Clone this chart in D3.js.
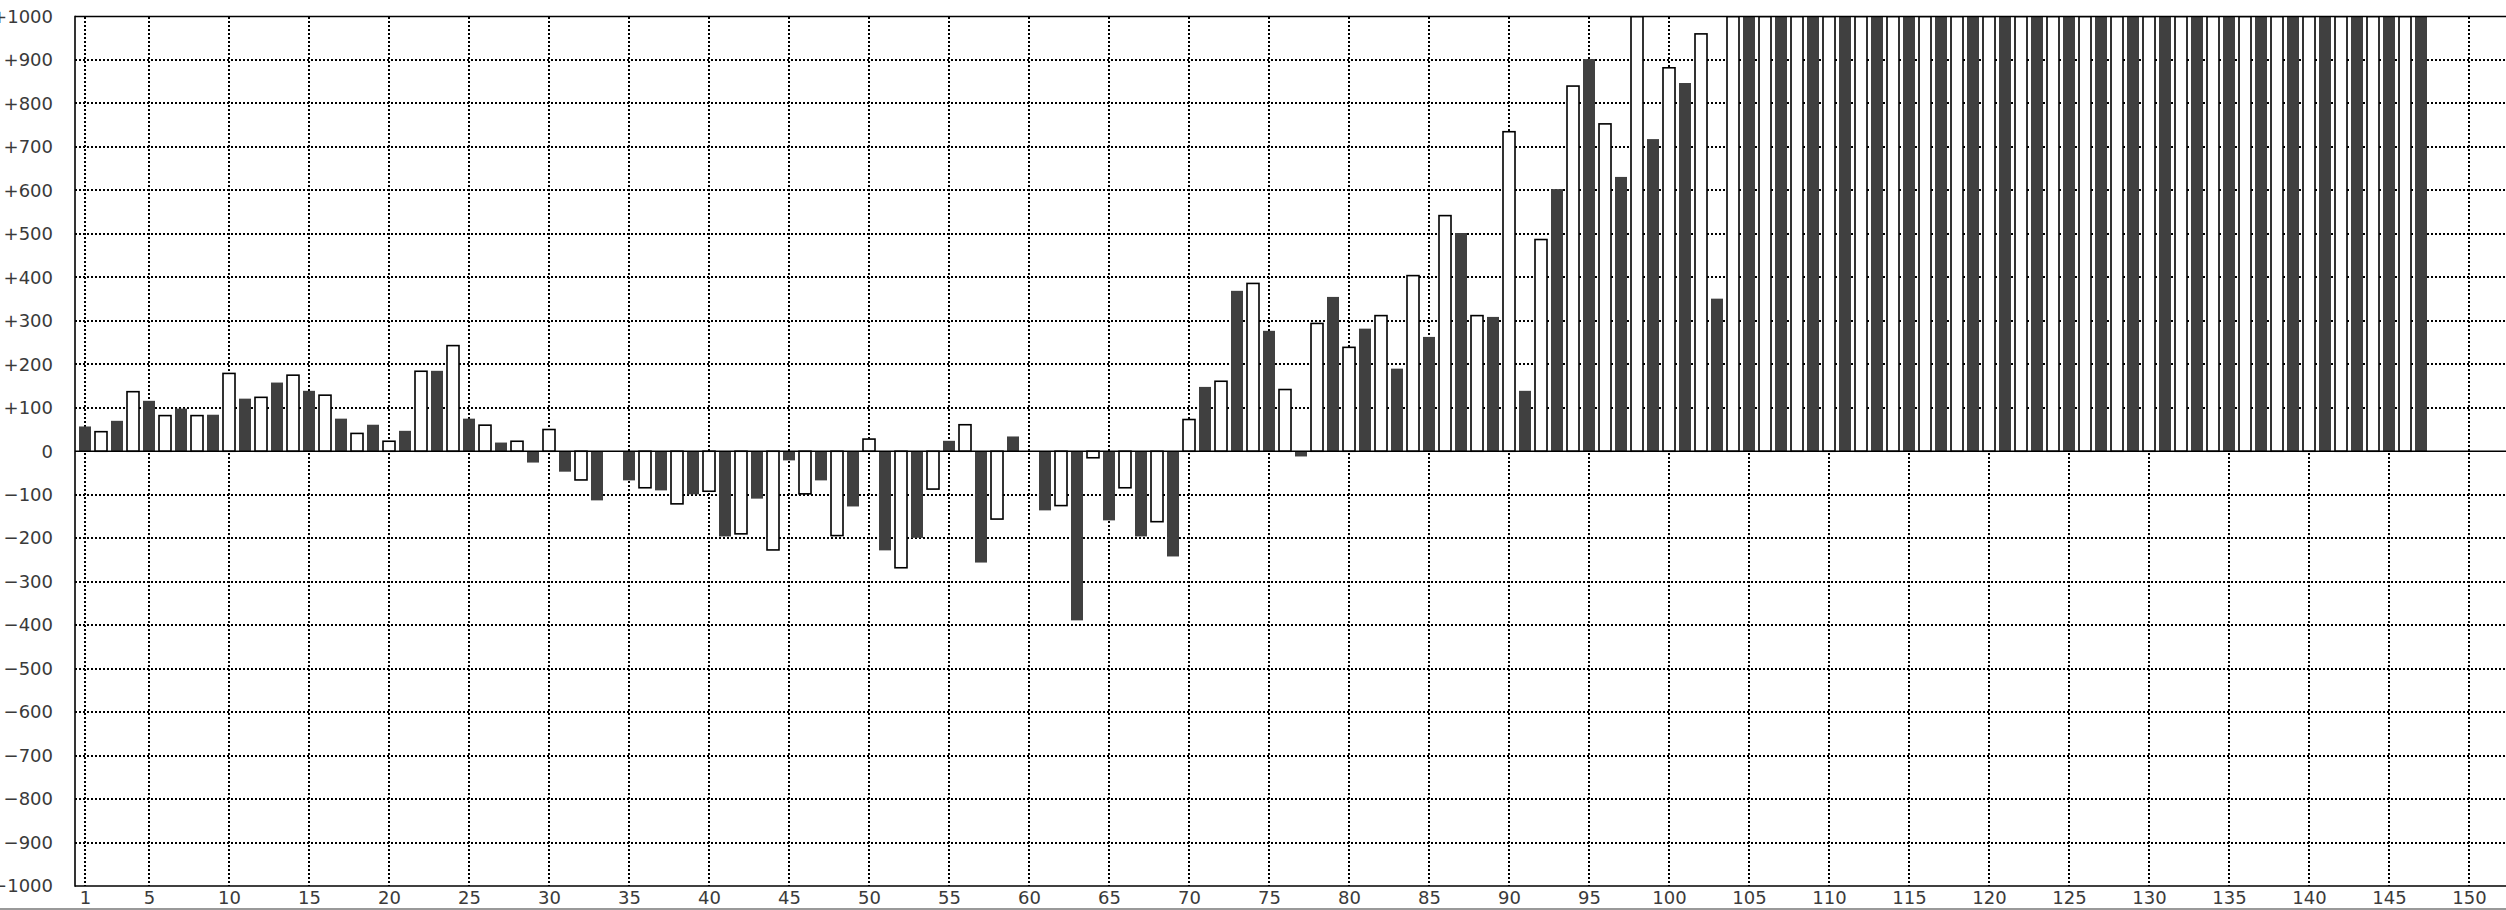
<!DOCTYPE html>
<html><head><meta charset="utf-8">
<script src="https://cdn.jsdelivr.net/npm/d3@7"></script>
<style>html,body{margin:0;padding:0;background:#fff;overflow:hidden}</style>
</head><body>
<svg id="chart" width="2506" height="910"></svg>
<script>
// ---- data ----
// dark bars sit on odd positions 1,3,...,147 ; light (outlined) bars on even positions 2,4,...,146
const darkX = d3.range(1, 148, 2);
const darkValues = [
  57, 70, 116, 98, 84, 121, 158, 139, 75, 61,
  47, 185, 75, 20, -26, -47, -113, -67, -90, -99,
  -196, -109, -21, -67, -127, -228, -199, 24, -256, 34,
  -136, -389, -159, -196, -242, 148, 369, 277, -12, 355,
  282, 190, 263, 502, 309, 139, 603, 902, 631, 718,
  847, 351,
  1000, 1000, 1000, 1000, 1000, 1000, 1000, 1000, 1000, 1000,
  1000, 1000, 1000, 1000, 1000, 1000, 1000, 1000, 1000, 1000,
  1000, 1000
];
const lightX = d3.range(2, 147, 2);
const lightValues = [
  45, 137, 82, 82, 179, 124, 175, 129, 41, 23,
  184, 243, 60, 23, 50, -66, 0, -84, -121, -92,
  -190, -227, -98, -194, 28, -268, -87, 61, -156, 0,
  -125, -15, -84, -162, 73, 161, 386, 142, 294, 239,
  312, 404, 542, 312, 735, 487, 840, 753, 1000, 882,
  960,
  1000, 1000, 1000, 1000, 1000, 1000, 1000, 1000, 1000, 1000,
  1000, 1000, 1000, 1000, 1000, 1000, 1000, 1000, 1000, 1000,
  1000, 1000
];
const yTicks = d3.range(-1000, 1001, 100);
const xTicks = [1, 5, 10, 15, 20, 25, 30, 35, 40, 45, 50, 55, 60, 65, 70, 75, 80, 85, 90, 95,
                100, 105, 110, 115, 120, 125, 130, 135, 140, 145, 150];

// ---- layout ----
const W = 2506, H = 910;
const plot = {left: 75, right: 2506, top: 16.5, bottom: 886};
const x = d3.scaleLinear().domain([1, 150]).range([85, 2469]);
const y = d3.scaleLinear().domain([-1000, 1000]).range([plot.bottom, plot.top]);
const barW = 12;

const svg = d3.select("#chart");
svg.append("rect").attr("width", W).attr("height", H).attr("fill", "#fff");

svg.append("defs").append("clipPath").attr("id", "plotclip")
  .append("rect").attr("x", plot.left).attr("y", plot.top)
  .attr("width", plot.right - plot.left).attr("height", plot.bottom - plot.top);

// grid
const grid = svg.append("g").attr("stroke", "#000").attr("stroke-width", 2)
  .attr("stroke-dasharray", "2,2").attr("shape-rendering", "crispEdges");
grid.selectAll("line.h").data(yTicks.filter(d => d !== 0 && Math.abs(d) !== 1000)).join("line")
  .attr("class", "h").attr("x1", plot.left).attr("x2", plot.right)
  .attr("y1", d => y(d)).attr("y2", d => y(d));
grid.selectAll("line.v").data(xTicks).join("line")
  .attr("class", "v").attr("y1", plot.top).attr("y2", plot.bottom)
  .attr("x1", d => x(d)).attr("x2", d => x(d));

// bars
const bars = svg.append("g").attr("clip-path", "url(#plotclip)");
const darkData = darkX.map((p, i) => ({p, v: darkValues[i]}));
const lightData = lightX.map((p, i) => ({p, v: lightValues[i]}));
bars.selectAll("rect.dark").data(darkData).join("rect")
  .attr("class", "dark")
  .attr("x", d => x(d.p) - barW / 2).attr("width", barW)
  .attr("y", d => Math.min(y(d.v), y(0)))
  .attr("height", d => Math.abs(y(d.v) - y(0)))
  .attr("fill", "#404040");
bars.selectAll("rect.light").data(lightData.filter(d => d.v !== 0)).join("rect")
  .attr("class", "light")
  .attr("x", d => x(d.p) - barW / 2).attr("width", barW)
  .attr("y", d => Math.min(y(d.v), y(0)))
  .attr("height", d => Math.abs(y(d.v) - y(0)))
  .attr("fill", "#fff").attr("stroke", "#000").attr("stroke-width", 1.6);

// frame + zero line
const frame = svg.append("g").attr("stroke", "#000").attr("stroke-width", 1.6).attr("fill", "none");
frame.append("line").attr("x1", plot.left).attr("x2", plot.right).attr("y1", y(0)).attr("y2", y(0));
frame.append("line").attr("x1", plot.left).attr("x2", plot.right).attr("y1", plot.top).attr("y2", plot.top);
frame.append("line").attr("x1", plot.left).attr("x2", plot.right).attr("y1", plot.bottom).attr("y2", plot.bottom);
frame.append("line").attr("x1", plot.left).attr("x2", plot.left).attr("y1", plot.top - 0.8).attr("y2", plot.bottom + 0.8);

// axes labels
const fmt = d => d > 0 ? "+" + d : d < 0 ? "\u2212" + (-d) : "0";
const yAxis = svg.append("g").attr("transform", `translate(${plot.left},0)`)
  .call(d3.axisLeft(y).tickValues(yTicks).tickFormat(fmt).tickSize(0).tickPadding(22));
const xAxis = svg.append("g").attr("transform", `translate(0,${plot.bottom})`)
  .call(d3.axisBottom(x).tickValues(xTicks).tickFormat(d3.format("d")).tickSize(0).tickPadding(5));
[yAxis, xAxis].forEach(a => {
  a.select(".domain").remove();
  a.selectAll("text").attr("font-family", "'DejaVu Sans', sans-serif")
    .attr("font-size", 18).attr("fill", "#3a3a3a");
});

// bottom window edge
svg.append("rect").attr("x", 0).attr("y", 908).attr("width", W).attr("height", 2).attr("fill", "#999");
</script>
</body></html>
